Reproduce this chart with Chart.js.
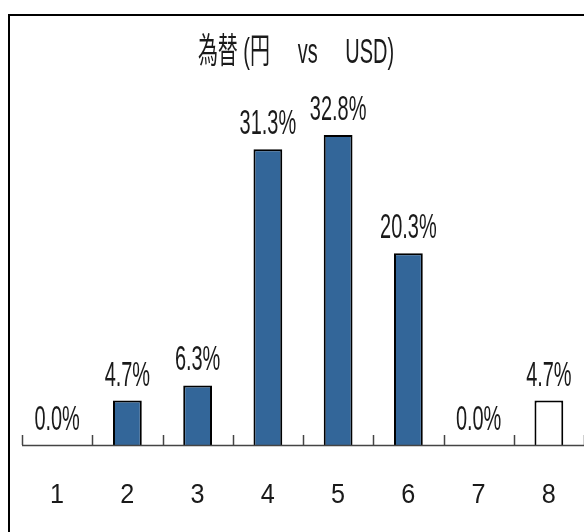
<!DOCTYPE html>
<html>
<head>
<meta charset="utf-8">
<script src="https://cdn.jsdelivr.net/npm/chart.js@4.4.1/dist/chart.umd.min.js"></script>
<style>
  html, body { margin: 0; padding: 0; background: #fff; overflow: hidden; }
  #wrap { width: 584px; height: 532px; position: relative; }
</style>
</head>
<body>
<div id="wrap"><canvas id="fxChart" width="584" height="532"></canvas></div>
<script>
const titleText = '為替 (円     vs     USD)';
const categories = ['1', '2', '3', '4', '5', '6', '7', '8'];
const shares = [0.0, 4.7, 6.3, 31.3, 32.8, 20.3, 0.0, 4.7];
const barColors = ['#336699', '#336699', '#336699', '#336699', '#336699', '#336699', '#336699', '#ffffff'];

const labelFont = '"Liberation Sans", Arial, "Noto Sans CJK JP", sans-serif';

// squeezed text, like a condensed face
function narrowText(ctx, text, x, y, squeeze) {
  ctx.save();
  ctx.translate(x, y);
  ctx.scale(squeeze, 1);
  ctx.fillText(text, 0, 0);
  ctx.restore();
}

// frame, title, axis ticks, category names and value labels
const decorations = {
  id: 'decorations',
  beforeDraw(chart) {
    const ctx = chart.ctx;
    ctx.save();
    ctx.strokeStyle = '#000';
    ctx.lineWidth = 2;
    ctx.strokeRect(9, 15, 700, 700);
    ctx.restore();
  },
  afterDatasetsDraw(chart) {
    const ctx = chart.ctx;
    const x = chart.scales.x;
    const y = chart.scales.y;
    ctx.save();

    // title
    ctx.fillStyle = '#1a1a1a';
    ctx.textAlign = 'center';
    ctx.textBaseline = 'alphabetic';
    ctx.font = '35px ' + labelFont;
    narrowText(ctx, titleText, 296, 63, 0.57);

    // x axis line and boundary ticks pointing up
    ctx.strokeStyle = '#444';
    ctx.lineWidth = 1.5;
    ctx.beginPath();
    ctx.moveTo(x.left, y.bottom + 0.5);
    ctx.lineTo(x.right, y.bottom + 0.5);
    ctx.stroke();
    for (let i = 0; i <= categories.length; i++) {
      const px = Math.round(x.getPixelForValue(i - 0.5)) + 0.5;
      ctx.beginPath();
      ctx.moveTo(px, y.bottom);
      ctx.lineTo(px, y.bottom - 10);
      ctx.stroke();
    }

    // category names under the axis
    ctx.font = '28px ' + labelFont;
    categories.forEach((c, i) => {
      narrowText(ctx, c, x.getPixelForValue(i), y.bottom + 58, 0.9);
    });

    // percentage labels over each bar
    ctx.font = '35px ' + labelFont;
    const meta = chart.getDatasetMeta(0);
    meta.data.forEach((bar, i) => {
      narrowText(ctx, shares[i].toFixed(1) + '%', bar.x, bar.y - 15, 0.57);
    });
    ctx.restore();
  }
};

new Chart(document.getElementById('fxChart'), {
  type: 'bar',
  data: {
    labels: categories,
    datasets: [{
      data: shares,
      backgroundColor: barColors,
      borderColor: '#000',
      borderWidth: 2,
      borderSkipped: 'bottom',
      barPercentage: 0.41,
      categoryPercentage: 1
    }]
  },
  options: {
    responsive: false,
    animation: false,
    layout: { padding: { left: 22, right: 0, top: 67, bottom: 87 } },
    plugins: {
      legend: { display: false },
      tooltip: { enabled: false },
      title: { display: false }
    },
    scales: {
      x: {
        display: false
      },
      y: {
        display: false,
        min: 0,
        max: 40
      }
    }
  },
  plugins: [decorations]
});
</script>
</body>
</html>
